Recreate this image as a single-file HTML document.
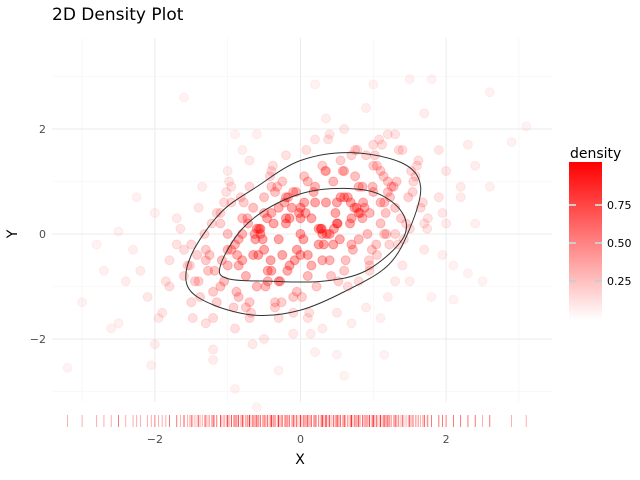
<!DOCTYPE html>
<html><head><meta charset="utf-8"><style>
html,body{margin:0;padding:0;background:#fff;}
svg{display:block;font-family:"DejaVu Sans","Liberation Sans",sans-serif;}
</style></head><body>
<svg id="chart" width="640" height="480">
<defs><linearGradient id="cb" x1="0" y1="1" x2="0" y2="0"><stop offset="0" stop-color="#fff"/><stop offset="1" stop-color="#ff0000"/></linearGradient></defs>
<text x="52" y="20" font-size="17" fill="#000">2D Density Plot</text>
<g id="grid"></g>
<g id="pts"></g>
<g id="cont"></g>
<g id="rug"></g>
<g id="axes"></g>
<text x="300" y="464" font-size="14" text-anchor="middle">X</text>
<text x="17" y="234" font-size="14" text-anchor="middle" transform="rotate(-90 17 234)">Y</text>
<g>
<text x="570" y="158" font-size="14">density</text>
<rect x="569" y="162" width="33" height="158" fill="url(#cb)"/>
<g id="cbt"></g>
</g>
</svg>
<script>
const xTicks=[-2,0,2];
const yTicks=[-2,0,2];
const cbTicks=[0.25,0.5,0.75];
const xs=[-3.2,-3.0,-2.7,-2.6,-2.5,-2.5,-2.2,-2.1,-2.0,-2.05,-2.0,-1.9,-1.8,-1.8,-1.7,-1.6,-1.5,-1.5,-1.4,-1.3,-1.3,-1.2,-1.2,-1.1,-1.0,-1.0,-0.9,-0.9,-0.8,-0.7,-0.6,-0.6,-0.5,-0.4,-0.3,-0.3,-0.2,-0.1,0.0,0.1,0.2,0.2,0.3,0.4,0.5,0.6,0.7,0.8,0.9,1.0,1.1,1.2,1.3,1.4,1.5,1.5,1.6,1.7,1.8,1.8,1.9,2.0,2.1,2.2,2.3,2.3,2.4,2.4,2.6,2.6,2.9,3.1,
-1.4,-1.3,-1.2,-1.1,-1.0,-0.95,-0.9,-0.85,-0.8,-0.75,-0.7,-0.65,-0.6,-0.55,-0.5,-0.45,-0.4,-0.35,-0.3,-0.25,-0.2,-0.15,-0.1,-0.05,0.0,0.05,0.1,0.15,0.2,0.25,0.3,0.35,0.4,0.45,0.5,0.55,0.6,0.65,0.7,0.75,0.8,0.85,0.9,0.95,1.0,1.05,1.1,1.15,1.2,1.3,
-1.25,-1.15,-1.05,-0.95,-0.85,-0.75,-0.65,-0.55,-0.45,-0.35,-0.25,-0.15,-0.05,0.05,0.15,0.25,0.35,0.45,0.55,0.65,0.75,0.85,0.95,1.05,1.15,1.25,1.35,1.45,1.55,1.65,
-1.6,-1.45,-1.35,-0.9,-0.7,-0.5,-0.3,-0.1,0.1,0.3,0.5,0.7,0.9,1.1,1.3,1.5,1.7,1.9,-0.8,-0.4,0.0,0.4,0.8,1.2,-0.6,-0.2,0.2,0.6,1.0,1.4,
-1.0,-0.5,0.0,0.5,1.0,-0.8,-0.3,0.2,0.7,1.2,-1.2,-0.7,-0.2,0.3,0.8,1.3,-0.4,0.1,0.6,1.1,
-1.52,-1.38,-1.22,-1.08,-0.92,-0.78,-0.62,-0.48,-0.32,-0.18,-0.02,0.12,0.28,0.42,0.58,0.72,0.88,1.02,1.18,1.32,1.48,1.62,
-1.48,-1.32,-1.18,-1.02,-0.88,-0.72,-0.58,-0.42,-0.28,-0.12,0.02,0.18,0.32,0.48,0.62,0.78,0.92,1.08,1.22,1.38,1.52,1.68,
-1.7,-1.55,-1.1,-0.95,-0.82,-0.68,-0.52,-0.38,-0.22,-0.08,0.08,0.22,0.38,0.52,0.68,0.82,0.98,1.12,1.28,1.42,1.58,1.75,
-1.85,-1.65,-1.42,-1.15,-0.98,-0.85,-0.66,-0.46,-0.26,-0.06,0.14,0.34,0.54,0.74,0.94,1.14,1.34,1.54,1.74,1.95,
-1.05,-0.87,-0.63,-0.41,-0.17,0.07,0.29,0.51,0.77,0.99,1.23,-0.73,-0.37,0.04,0.36,0.69,1.04,-1.27,-0.57,0.46,0.86,1.17,
-2.3,-2.4,-1.95,-2.25,2.1,2.2,2.0,1.95,2.5,-2.8,-0.1,0.6,1.15,0.35,-1.6,-0.35,0.95,1.7];
const ys=[-2.55,-1.3,-0.7,-1.8,0.05,-1.7,-0.7,-1.2,-2.1,-2.5,0.4,-1.5,-0.5,-1.0,0.3,-0.8,-1.3,-0.2,0.5,-0.5,-1.7,-2.2,-2.4,-1.0,0.0,1.2,1.9,-2.95,1.6,-1.3,-3.3,1.9,-0.3,1.2,-2.6,0.5,1.5,-1.9,0.0,1.0,2.85,-2.25,-0.5,1.9,-2.3,0.7,1.5,-0.9,2.4,2.85,0.6,-1.2,1.9,-0.6,2.95,0.1,1.3,-0.3,2.95,-1.2,0.7,1.2,-1.25,0.7,1.7,-0.75,0.2,1.3,0.9,2.7,1.75,2.05,
-0.9,-0.3,-1.1,0.2,-0.6,0.6,-0.2,-1.2,0.3,-0.8,0.9,-0.4,-1.0,0.1,0.7,-0.7,0.4,-1.3,-0.1,1.0,0.2,-0.6,0.8,-0.3,0.5,1.1,-0.8,0.3,0.9,-0.2,1.3,0.6,-0.5,1.0,0.2,1.4,-0.7,0.7,0.3,1.1,-0.1,0.9,1.5,0.4,0.8,-0.4,1.2,0.6,1.0,0.5,
-0.4,0.4,-0.9,0.9,-0.1,-1.4,0.5,0.0,-0.9,0.8,-0.4,0.3,-1.1,0.6,-0.6,0.1,1.2,-0.2,0.7,-1.0,1.6,0.3,-0.6,1.3,0.0,0.9,1.6,0.2,1.0,0.5,
-0.3,-0.9,0.9,-1.8,1.4,-2.0,-1.6,-1.2,-1.6,-1.8,-1.5,-1.7,-1.4,-1.6,-0.9,-0.9,0.2,1.6,-0.5,-0.7,-0.4,0.0,0.4,0.8,0.1,0.3,0.6,1.2,1.7,1.6,
-0.3,0.4,0.3,0.6,1.3,0.0,-0.9,1.8,-0.2,1.9,-1.6,-1.6,0.7,0.0,0.9,0.0,0.9,-0.4,2.0,0.2,
-0.6,-1.2,0.2,-0.5,-1.4,0.6,-0.1,-1.0,0.9,-0.7,0.4,-1.5,0.1,-0.8,1.2,-0.3,0.5,1.5,0.0,1.0,0.7,1.4,
-1.6,0.0,-0.7,0.8,-1.1,0.2,-0.4,1.1,-0.9,0.5,-1.2,0.8,-0.2,0.4,-0.5,1.6,0.0,1.8,-0.2,0.3,1.2,0.6,
-0.2,-0.6,0.4,-0.3,0.7,-1.5,-0.1,1.3,0.6,-0.5,1.6,-1.0,1.8,-0.9,0.2,0.4,-0.3,1.7,0.9,-0.1,1.1,0.3,
-0.9,0.1,-0.4,-1.3,1.0,-0.6,-2.1,0.3,-1.3,0.8,-1.9,1.2,-0.1,0.5,-0.5,1.1,-0.2,0.8,0.1,0.4,
0.6,-0.4,0.0,-0.5,0.7,0.4,0.1,0.2,0.5,0.9,0.7,0.3,0.2,-0.1,0.0,0.6,-0.2,-0.7,0.1,0.1,0.6,0.4,
-0.3,-0.9,-1.6,0.7,-0.6,0.9,0.2,-0.4,-0.9,-0.2,-1.5,-2.7,-2.3,2.2,2.6,-1.4,-0.7,2.3];
const innerX=[-1.1,-0.8,-0.3,0.3,1.0,1.4,1.4,0.9,0.3,-0.4,-1.0];
const innerY=[-0.6,0.1,0.6,0.85,0.8,0.4,-0.1,-0.7,-0.9,-0.9,-0.85];
const outerX=[-1.55,-1.5,-1.1,-0.6,0.0,0.7,1.4,1.65,1.5,1.2,0.6,0.0,-0.6,-1.2];
const outerY=[-1.0,-0.4,0.4,0.9,1.4,1.55,1.35,0.9,0.1,-0.6,-1.1,-1.45,-1.55,-1.35];

const NS='http://www.w3.org/2000/svg';
const px=x=>300.5+x*72.8, py=y=>234-y*52.5;
function mk(tag,attrs,parent){const e=document.createElementNS(NS,tag);for(const k in attrs)e.setAttribute(k,attrs[k]);parent.appendChild(e);return e;}
const grid=document.getElementById('grid');
[-3,-1,1,3].forEach(v=>{mk('line',{x1:px(v),x2:px(v),y1:38,y2:402,stroke:'#f3f3f3','stroke-width':0.6},grid);});
[-3,-1,1,3].forEach(v=>{mk('line',{x1:52,x2:552,y1:py(v),y2:py(v),stroke:'#f3f3f3','stroke-width':0.6},grid);});
const axes=document.getElementById('axes');
xTicks.forEach(v=>{
  const l=mk('line',{x1:px(v),x2:px(v),y1:38,y2:402,stroke:'#ebebeb','stroke-width':1},grid);
  
  
  const t=mk('text',{x:px(v),y:443,'font-size':11,'text-anchor':'middle',fill:'#4d4d4d'},axes);
  t.textContent=(v<0?'\u2212':'')+Math.abs(v);
  
  
});
yTicks.forEach(v=>{
  const l=mk('line',{x1:52,x2:552,y1:py(v),y2:py(v),stroke:'#ebebeb','stroke-width':1},grid);
  
  
  const t=mk('text',{x:46,y:py(v)+4,'font-size':11,'text-anchor':'end',fill:'#4d4d4d'},axes);
  t.textContent=(v<0?'\u2212':'')+Math.abs(v);
  
  
});
const pts=document.getElementById('pts');
function dens(x,y){const r=0.5;const z=(x*x-2*r*x*y+y*y)/(1-r*r);return Math.exp(-z/2);}
xs.forEach((x,i)=>{
  const d=dens(x,ys[i]);
  const a=0.1+0.6*Math.min(1,d*1.2);
  const c=mk('circle',{cx:px(x),cy:py(ys[i]),r:4.5,fill:'rgba(255,0,0,'+(a*0.5)+')',stroke:'rgba(255,0,0,'+(a*0.45)+')','stroke-width':1},pts);
  
  
});
const rug=document.getElementById('rug');
xs.forEach(x=>{
  const l=mk('line',{x1:px(x),x2:px(x),y1:415,y2:427,stroke:'rgba(255,0,0,0.4)','stroke-width':0.8},rug);
  
  
});
function closedPath(X,Y){const n=X.length;const P=X.map((x,i)=>[px(x),py(Y[i])]);let d='M'+P[0][0]+','+P[0][1];
  for(let i=0;i<n;i++){const p0=P[(i-1+n)%n],p1=P[i],p2=P[(i+1)%n],p3=P[(i+2)%n];
    d+=' C'+(p1[0]+(p2[0]-p0[0])/6)+','+(p1[1]+(p2[1]-p0[1])/6)+' '+(p2[0]-(p3[0]-p1[0])/6)+','+(p2[1]-(p3[1]-p1[1])/6)+' '+p2[0]+','+p2[1];}
  return d+'Z';}
const cont=document.getElementById('cont');
const c1=mk('path',{d:closedPath(outerX,outerY),fill:'none',stroke:'#333','stroke-width':1},cont);


const c2=mk('path',{d:closedPath(innerX,innerY),fill:'none',stroke:'#333','stroke-width':1},cont);


const cbt=document.getElementById('cbt');
cbTicks.forEach(v=>{
  const y=319-v*152;
  mk('line',{x1:569,x2:576,y1:y,y2:y,stroke:'#ccc','stroke-width':2},cbt);
  mk('line',{x1:595,x2:602,y1:y,y2:y,stroke:'#ccc','stroke-width':2},cbt);
  const t=mk('text',{x:607,y:y+4,'font-size':11,fill:'#000'},cbt);
  t.textContent=v.toFixed(2);
  
  
});
</script>
</body></html>
